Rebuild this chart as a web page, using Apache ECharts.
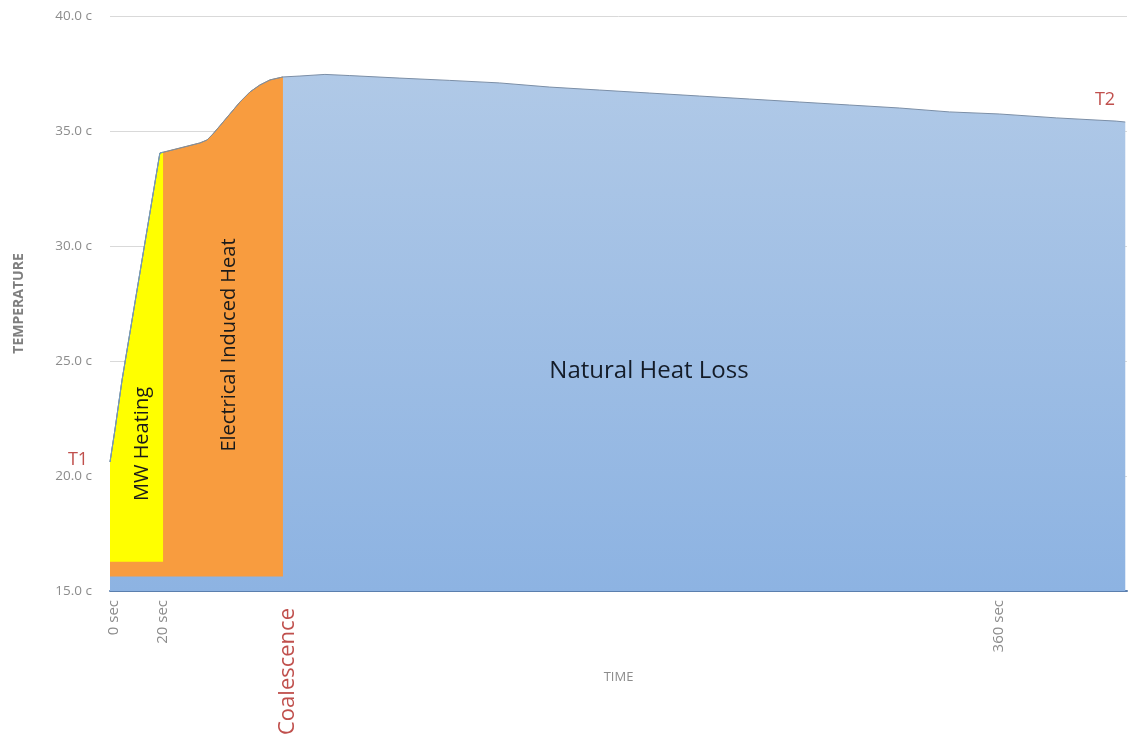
<!DOCTYPE html>
<html>
<head>
<meta charset="utf-8">
<style>
  html, body { margin: 0; padding: 0; background: #fff; }
  #chart { width: 1144px; height: 738px; }
</style>
<script src="https://cdn.jsdelivr.net/npm/echarts@6/dist/echarts.min.js"></script>
</head>
<body>
<div id="chart"></div>
<script>
// time in seconds, temperature in deg c
const mwHeating = [[0, 20.61], [2, 22.0], [4.9, 24.17], [20.3, 34.04], [21.6, 34.08]]
const electricalHeat = [[0, 20.61], [2, 22.0], [4.9, 24.17], [20.3, 34.04], [28.5, 34.26],
  [36.6, 34.48], [39.5, 34.61], [41.9, 34.87], [44.7, 35.22], [48.8, 35.74],
  [52.9, 36.26], [57.0, 36.7], [61.0, 37.0], [65.1, 37.22], [70.4, 37.35]]
const naturalLoss = [[0, 20.61], [2, 22.0], [4.9, 24.17], [20.3, 34.04], [28.5, 34.26],
  [36.6, 34.48], [39.5, 34.61], [41.9, 34.87], [44.7, 35.22], [48.8, 35.74],
  [52.9, 36.26], [57.0, 36.7], [61.0, 37.0], [65.1, 37.22], [70.4, 37.35],
  [77.3, 37.39], [87.5, 37.46], [97.6, 37.41], [118, 37.3], [138.3, 37.2],
  [158.6, 37.09], [179, 36.91], [199.3, 36.78], [219.7, 36.65], [240, 36.52],
  [260.3, 36.39], [280.7, 36.26], [301, 36.13], [321.4, 36.0], [341.7, 35.83],
  [362, 35.74], [385.2, 35.57], [409.6, 35.43], [413.3, 35.39]]
const mwBase = 16.27
const electricalBase = 15.63
const timeTicks = [0, 20, 70, 360]
const timeLabels = ['0 sec', '20 sec', 'Coalescence', '360 sec']

const font = '"Open Sans", "Noto Sans", sans-serif'
const chart = echarts.init(document.getElementById('chart'))

chart.setOption({
  animation: false,
  grid: { left: 110, right: 17, top: 16, bottom: 147, outerBoundsMode: 'none' },
  xAxis: {
    type: 'value',
    min: 0,
    max: 414,
    name: 'TIME',
    nameLocation: 'middle',
    nameGap: 80,
    nameMoveOverlap: false,
    nameTextStyle: { color: '#8c8c8c', fontSize: 13, fontFamily: font },
    axisLine: { lineStyle: { color: '#5b7fae', width: 2 } },
    axisTick: { show: false },
    splitLine: { show: false },
    axisLabel: {
      customValues: timeTicks,
      rotate: 90,
      margin: 9,
      padding: [8, 0, 0, 0],
      color: '#8c8c8c',
      fontSize: 15,
      fontFamily: font,
      formatter: v => {
        const i = timeTicks.indexOf(v)
        if (i < 0) return ''
        return timeLabels[i] === 'Coalescence' ? '{red|Coalescence}' : timeLabels[i]
      },
      rich: {
        red: { color: '#c0504d', fontSize: 22, fontFamily: font, padding: [4, 8, 0, 0] }
      }
    }
  },
  yAxis: {
    type: 'value',
    min: 15,
    max: 40,
    interval: 5,
    name: 'TEMPERATURE',
    nameLocation: 'middle',
    nameGap: 84,
    nameMoveOverlap: false,
    nameTextStyle: { color: '#7f7f7f', fontSize: 14, fontWeight: 'bold', fontFamily: font },
    axisLine: { show: false },
    axisTick: { show: false },
    splitLine: { lineStyle: { color: '#d9d9d9' } },
    axisLabel: {
      margin: 18,
      color: '#8c8c8c',
      fontSize: 13.5,
      fontFamily: font,
      formatter: v => v.toFixed(1) + ' c'
    }
  },
  series: [
    {
      name: 'Natural Heat Loss',
      type: 'line',
      data: naturalLoss,
      showSymbol: false,
      lineStyle: { color: '#7b8ea6', width: 1 },
      areaStyle: {
        opacity: 1,
        color: new echarts.graphic.LinearGradient(0, 0, 0, 1, [
          { offset: 0, color: '#b0c9e7' },
          { offset: 1, color: '#8db3e2' }
        ])
      }
    },
    {
      name: 'Electrical Induced Heat',
      type: 'line',
      data: electricalHeat,
      showSymbol: false,
      lineStyle: { color: '#8c8c8c', width: 1 },
      areaStyle: { opacity: 1, color: '#f89c3f', origin: electricalBase }
    },
    {
      name: 'MW Heating',
      type: 'line',
      data: mwHeating,
      showSymbol: false,
      lineStyle: { color: '#6f9cc0', width: 1 },
      areaStyle: { opacity: 1, color: '#ffff00', origin: mwBase }
    }
  ],
  graphic: [
    {
      type: 'text', x: 142, y: 444, rotation: Math.PI / 2, z: 100,
      style: { text: 'MW Heating', fill: '#1a1a1a', font: '20px ' + font, align: 'center', verticalAlign: 'middle' }
    },
    {
      type: 'text', x: 229, y: 345, rotation: Math.PI / 2, z: 100,
      style: { text: 'Electrical Induced Heat', fill: '#1a1a1a', font: '20px ' + font, align: 'center', verticalAlign: 'middle' }
    },
    {
      type: 'text', x: 649, y: 371, z: 100,
      style: { text: 'Natural Heat Loss', fill: '#141c28', font: '24px ' + font, align: 'center', verticalAlign: 'middle' }
    },
    {
      type: 'text', x: 78, y: 460, z: 100,
      style: { text: 'T1', fill: '#c0504d', font: '18px ' + font, align: 'center', verticalAlign: 'middle' }
    },
    {
      type: 'text', x: 1105, y: 100, z: 100,
      style: { text: 'T2', fill: '#c0504d', font: '18px ' + font, align: 'center', verticalAlign: 'middle' }
    }
  ]
})
</script>
</body>
</html>
